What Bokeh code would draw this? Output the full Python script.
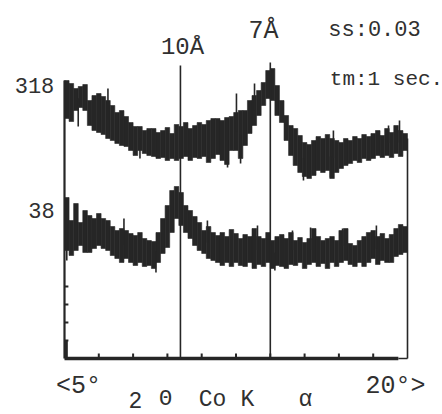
import numpy as np
from bokeh.plotting import figure
from bokeh.models import Range1d
from bokeh.core.properties import value
from bokeh.embed import file_html
from bokeh.resources import INLINE

# ---------------- data ----------------
# 2-theta bin centres (degrees, Co K-alpha), 0.2 deg bins from 5 to 20
two_theta = [round(5.1 + 0.2 * i, 1) for i in range(75)]

# upper pattern (318 cps full scale), upper / lower envelope of the noisy band
upper_hi = [278, 275, 270, 272, 274, 258, 263, 265, 262, 258, 253, 246, 248, 242, 236,
            232, 232, 228, 230, 230, 226, 228, 231, 225, 234, 232, 236, 230, 233, 236,
            234, 238, 240, 240, 238, 241, 242, 246, 248, 248, 258, 263, 268, 276, 288,
            290, 273, 258, 243, 233, 230, 223, 216, 214, 218, 222, 220, 224, 220, 218,
            216, 220, 218, 222, 220, 224, 222, 225, 228, 223, 230, 226, 233, 228, 225]
upper_lo = [240, 237, 248, 251, 248, 233, 228, 226, 224, 220, 218, 215, 213, 212, 208,
            203, 208, 205, 203, 202, 200, 201, 198, 200, 198, 200, 202, 198, 201, 200,
            202, 196, 200, 204, 198, 194, 208, 208, 200, 213, 225, 233, 243, 253, 260,
            258, 243, 236, 218, 203, 193, 186, 182, 180, 183, 188, 186, 188, 180, 186,
            190, 193, 195, 198, 196, 200, 198, 200, 203, 201, 203, 201, 205, 202, 208]

# lower pattern (38 cps full scale)
lower_hi = [161, 138, 155, 136, 148, 143, 140, 145, 140, 138, 132, 128, 130, 128, 125,
            123, 126, 120, 118, 117, 126, 140, 153, 168, 172, 166, 153, 148, 142, 136,
            128, 132, 126, 123, 126, 122, 129, 125, 120, 124, 122, 130, 122, 120, 126,
            118, 122, 124, 120, 126, 118, 121, 116, 120, 130, 122, 118, 120, 122, 118,
            128, 130, 115, 113, 118, 122, 126, 128, 122, 125, 120, 124, 130, 134, 132]
lower_lo = [108, 103, 108, 113, 106, 106, 110, 113, 110, 108, 103, 100, 96, 100, 96,
            93, 96, 92, 93, 90, 96, 105, 111, 126, 140, 133, 126, 120, 113, 108,
            105, 100, 98, 96, 93, 96, 92, 96, 93, 92, 96, 90, 94, 92, 96,
            90, 93, 92, 90, 94, 93, 96, 90, 94, 96, 92, 95, 90, 96, 92,
            96, 98, 94, 92, 96, 92, 96, 100, 94, 98, 96, 96, 102, 104, 106]

# isolated single-channel spikes (position, tip)
upper_spike_x = [5.6, 6.9, 12.52, 13.31, 12.13, 12.70, 15.45, 16.63, 16.76, 19.17, 19.65, 8.3]
upper_spike_y = [232, 270, 265, 275, 191, 195, 178, 181, 228, 233, 238, 200]
lower_spike_x = [5.1, 11.25, 13.44, 14.97, 15.76, 17.16, 18.64, 14.20, 7.6, 9.0]
lower_spike_y = [98, 138, 133, 128, 131, 130, 133, 88, 140, 86]

# reflections marked on the pattern
peak_pos = [10.07, 14.0]
peak_top = [293, 296]
peak_labels = ["10Å", "7Å"]

x_ticks = [6.5, 8.0, 9.5, 11.0, 12.5, 14.0, 15.5, 17.0, 18.5]
y_ticks = [18, 36, 54, 72]

# ---------------- figure ----------------
W, H = 442, 414
x0_px, x1_px, base_px = 64, 407, 358
ppd = (x1_px - x0_px) / 15.0
xr = Range1d(5 - x0_px / ppd, 5 + (W - x0_px) / ppd)
yr = Range1d(base_px - H, base_px)

p = figure(width=W, height=H, x_range=xr, y_range=yr, output_backend="svg",
           toolbar_location=None, x_axis_location=None, y_axis_location=None,
           min_border=0, outline_line_color=None, background_fill_color="white",
           border_fill_color="white")
p.grid.visible = False

ink = "#262626"
bw = 0.2

# noisy bands
for hi, lo in ((upper_hi, upper_lo), (lower_hi, lower_lo)):
    p.vbar(x=two_theta, width=bw, top=hi, bottom=lo, fill_color=ink,
           line_color=ink, line_width=0.6)

# spikes
for sx, sy, hi, lo in ((upper_spike_x, upper_spike_y, upper_hi, upper_lo),
                       (lower_spike_x, lower_spike_y, lower_hi, lower_lo)):
    mid = (np.array(hi) + np.array(lo)) / 2.0
    base = np.interp(sx, two_theta, mid)
    p.segment(x0=sx, y0=base, x1=sx, y1=sy, line_color=ink, line_width=1.6)

# axes frame
p.segment(x0=[5.0], y0=[0], x1=[5.0], y1=[upper_hi[0]], line_color=ink, line_width=2.2)
p.segment(x0=[20.0], y0=[0], x1=[20.0], y1=[upper_lo[-1] + 12], line_color=ink, line_width=1.6)
p.segment(x0=[5.0], y0=[0], x1=[19.6], y1=[0], line_color=ink, line_width=3.5)
p.segment(x0=[19.6], y0=[0], x1=[20.0], y1=[0], line_color=ink, line_width=1.5)
p.segment(x0=x_ticks, y0=[0] * len(x_ticks), x1=x_ticks, y1=[5] * len(x_ticks),
          line_color=ink, line_width=2)
p.segment(x0=[5.0] * len(y_ticks), y0=y_ticks, x1=[5.17] * len(y_ticks), y1=y_ticks,
          line_color=ink, line_width=2)
p.segment(x0=[5.08], y0=[0], x1=[5.08], y1=[18], line_color=ink, line_width=3)

# reflection markers
p.segment(x0=peak_pos, y0=[0, 0], x1=peak_pos, y1=peak_top, line_color=ink, line_width=1.6)

font = value("Liberation Mono")
tc = "#303030"

def txt(x, y, s, size, align="center"):
    p.text(x=[x], y=[y], text=[s], text_font=font, text_font_size=size,
           text_align=align, text_baseline="middle", text_color=tc)

def X(px):
    return 5 + (px - x0_px) / ppd

def Y(py):
    return base_px - py

txt(X(182), Y(47), peak_labels[0], "24px")
txt(X(263), Y(31), peak_labels[1], "25px")
txt(X(374), Y(30), "ss:0.03", "22px")
txt(X(386), Y(79), "tm:1 sec.", "21px")
txt(X(34), Y(85), "318", "22px")
txt(X(41), Y(210), "38", "22px")
txt(X(78), Y(386), "<5°", "25px")
txt(X(395), Y(386), "20°>", "25px")
txt(X(135), Y(399), "2", "23px")
txt(X(165), Y(399), "Θ", "22px")
txt(X(212), Y(399), "Co", "23px")
txt(X(247), Y(399), "K", "23px")
txt(X(305), Y(399), "α", "23px")

open("out.html", "w").write(file_html(p, INLINE))
